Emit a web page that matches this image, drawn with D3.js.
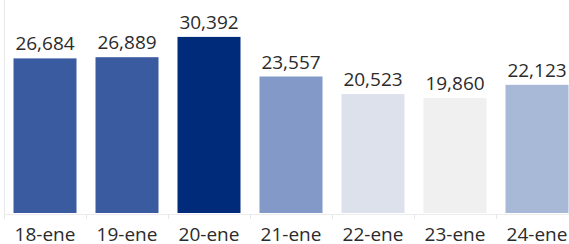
<!DOCTYPE html>
<html>
<head>
<meta charset="utf-8">
<script src="https://cdn.jsdelivr.net/npm/d3@7"></script>
<style>
  body { margin: 0; background: #fff; }
  svg { display: block; }
  text { font-family: "Open Sans", sans-serif; fill: #2b2b2b; }
</style>
</head>
<body>
<div class="chart"></div>
<script>
let labels = ['18-ene', '19-ene', '20-ene', '21-ene', '22-ene', '23-ene', '24-ene'];
let values = [26684, 26889, 30392, 23557, 20523, 19860, 22123];
let colors = ['#3a5ba0', '#3a5ba0', '#002a7a', '#8399c8', '#dde1ec', '#f0f0f0', '#a8b9d8'];

let width = 569;
let height = 244;
let baseY = 213;
let left = 4;
let step = 82;

let svg = d3.select('.chart')
            .append('svg')
            .attr('width', width)
            .attr('height', height);

let x = d3.scaleBand()
          .domain(labels)
          .range([left, left + step * labels.length])
          .paddingInner(19 / 82)
          .paddingOuter(19 / 164);

let y = d3.scaleLinear()
          .domain([0, 34000])
          .range([baseY, 16]);

// faint frame lines
svg.append('line')
   .attr('x1', left + 0.5).attr('x2', left + 0.5)
   .attr('y1', 0).attr('y2', 219)
   .attr('stroke', '#e8e8e8');
svg.append('line')
   .attr('x1', left).attr('x2', width)
   .attr('y1', baseY + 1.5).attr('y2', baseY + 1.5)
   .attr('stroke', '#ececec');
svg.selectAll('.sep')
   .data(labels.slice(1))
   .enter()
   .append('line')
   .attr('class', 'sep')
   .attr('x1', d => x(d) - x.step() * x.paddingInner() / 2 + 0.5)
   .attr('x2', d => x(d) - x.step() * x.paddingInner() / 2 + 0.5)
   .attr('y1', baseY + 1)
   .attr('y2', 219)
   .attr('stroke', '#e8e8e8');

svg.selectAll('rect')
   .data(values)
   .enter()
   .append('rect')
   .attr('x', (d, i) => x(labels[i]))
   .attr('y', d => y(d))
   .attr('width', x.bandwidth())
   .attr('height', d => y(0) - y(d))
   .attr('fill', (d, i) => colors[i]);

svg.selectAll('.val')
   .data(values)
   .enter()
   .append('text')
   .attr('class', 'val')
   .attr('x', (d, i) => x(labels[i]) + x.bandwidth() / 2)
   .attr('y', d => y(d) - 8)
   .attr('text-anchor', 'middle')
   .style('font-size', '19px')
   .text(d => d3.format(',')(d));

let xAxis = d3.axisBottom(x).tickSize(0).tickPadding(0);
let gx = svg.append('g')
            .attr('transform', 'translate(0,' + baseY + ')')
            .call(xAxis);
gx.select('.domain').remove();
gx.selectAll('text')
  .attr('y', 28)
  .attr('dy', 0)
  .style('font-size', '19px')
  .style('font-family', '"Open Sans", sans-serif')
  .style('fill', '#2b2b2b');
</script>
</body>
</html>
